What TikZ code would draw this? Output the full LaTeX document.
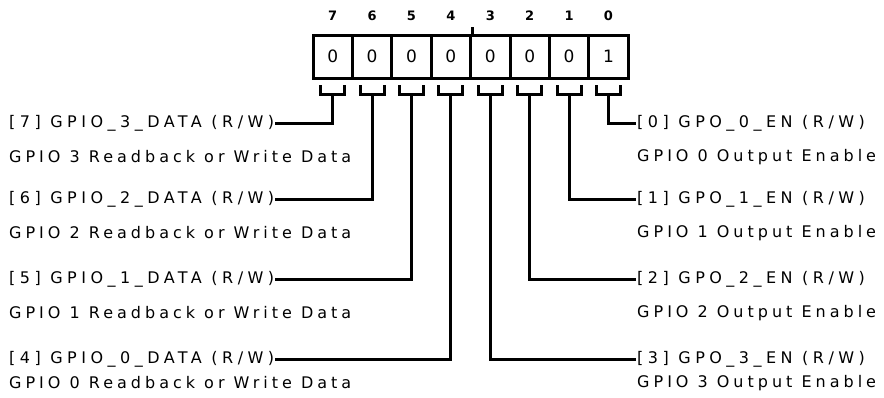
\documentclass[tikz,border=0pt]{standalone}
\usepackage{fontspec}
\setmainfont{DejaVu Sans}
\newfontfamily\namefont[LetterSpace=28]{DejaVu Sans}
\newfontfamily\descfont[LetterSpace=25]{DejaVu Sans}
\usetikzlibrary{positioning}

\begin{document}
\begin{tikzpicture}[x=1pt,y=-1pt,
  cell/.style={draw,line width=3pt,minimum width=39.4pt,minimum height=43pt,inner sep=0pt,font=\fontsize{17}{17}\selectfont},
  bitno/.style={inner sep=0pt,font=\fontsize{13}{13}\selectfont\bfseries},
  fieldname/.style={anchor=west,inner sep=1pt,font=\namefont\fontsize{16}{16}\selectfont},
  fielddesc/.style={anchor=west,inner sep=1pt,font=\descfont\fontsize{16}{16}\selectfont},
  wire/.style={line width=3pt}]
\useasboundingbox (0,0) rectangle (884,397);
% register cells, bit numbers and brackets
\foreach \b/\v in {7/0,6/0,5/0,4/0,3/0,2/0,1/0,0/1} {
  \pgfmathsetmacro\cx{332.7+39.4*(7-\b)}
  \node[cell] (c\b) at (\cx,56.5) {\v};
  \node[bitno] (n\b) at (\cx,16) {\b};
  \draw[wire] (\cx-12,85) -- (\cx-12,94) -- (\cx+12,94) -- (\cx+12,85);
  \coordinate (s\b) at (\cx,94);
}
\draw[wire] (c4.north east) -- ++(0,-7);
% read/write data fields
\node[fieldname] (f7) at (8,123) {[7] GPIO\_3\_DATA (R/W)};
\node[fielddesc] (d7) at (8,157) {GPIO 3 Readback or Write Data};
\node[fieldname] (f6) at (8,199) {[6] GPIO\_2\_DATA (R/W)};
\node[fielddesc] (d6) at (8,233) {GPIO 2 Readback or Write Data};
\node[fieldname] (f5) at (8,279) {[5] GPIO\_1\_DATA (R/W)};
\node[fielddesc] (d5) at (8,313) {GPIO 1 Readback or Write Data};
\node[fieldname] (f4) at (8,359) {[4] GPIO\_0\_DATA (R/W)};
\node[fielddesc] (d4) at (8,383) {GPIO 0 Readback or Write Data};
% output enable fields
\node[fieldname] (f0) at (636,123) {[0] GPO\_0\_EN (R/W)};
\node[fielddesc] (d0) at (636,157) {GPIO 0 Output Enable};
\node[fieldname] (f1) at (636,199) {[1] GPO\_1\_EN (R/W)};
\node[fielddesc] (d1) at (636,233) {GPIO 1 Output Enable};
\node[fieldname] (f2) at (636,279) {[2] GPO\_2\_EN (R/W)};
\node[fielddesc] (d2) at (636,313) {GPIO 2 Output Enable};
\node[fieldname] (f3) at (636,359) {[3] GPO\_3\_EN (R/W)};
\node[fielddesc] (d3) at (636,383) {GPIO 3 Output Enable};
% connectors
\foreach \b in {7,6,5,4} {\draw[wire] (s\b) |- (f\b.east);}
\foreach \b in {0,1,2,3} {\draw[wire] (s\b) |- (f\b.west);}
\end{tikzpicture}
\end{document}
